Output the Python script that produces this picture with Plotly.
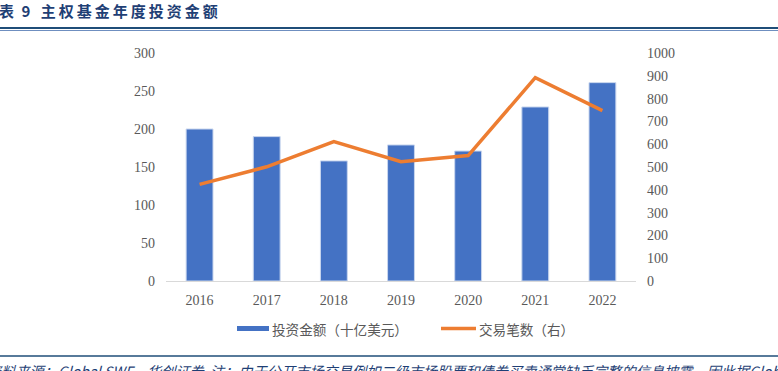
import plotly.graph_objects as go

years = ["2016", "2017", "2018", "2019", "2020", "2021", "2022"]
invest_amount = [200, 190, 158, 179, 171, 229, 261]   # 十亿美元
deal_count = [424, 501, 611, 523, 550, 892, 747]      # 笔

W, H = 778, 371
ML, MR, MT, MB = 166, 142, 53, 90
PW, PH = W - ML - MR, H - MT - MB

def px(x):
    return (x - ML) / PW

def py(y):
    return (H - MB - y) / PH

serif = "Liberation Serif, Times New Roman, serif"
cjk = "Noto Sans CJK SC, sans-serif"
gray = "#595959"
navy = "#1f3f75"
blue = "#4472C4"
orange = "#ED7D31"

fig = go.Figure()
fig.add_trace(go.Bar(
    x=years, y=invest_amount, name="投资金额（十亿美元）",
    marker=dict(color=blue, line=dict(color="#c9d6ee", width=1)),
    width=0.4, yaxis="y", showlegend=False,
))
fig.add_trace(go.Scatter(
    x=years, y=deal_count, name="交易笔数（右）", mode="lines",
    line=dict(color=orange, width=3.5), yaxis="y2", showlegend=False,
))

fig.update_layout(
    width=W, height=H,
    margin=dict(l=ML, r=MR, t=MT, b=MB),
    paper_bgcolor="white", plot_bgcolor="white",
    showlegend=False,
    xaxis=dict(showgrid=False, showline=True, linecolor="#d9d9d9", linewidth=1,
               ticks="", tickfont=dict(family=serif, size=14, color=gray),
               ticklabelstandoff=6),
    yaxis=dict(range=[0, 300], dtick=50, showgrid=False, showline=False, zeroline=False,
               ticks="", tickfont=dict(family=serif, size=14, color=gray),
               ticklabelstandoff=10),
    yaxis2=dict(range=[0, 1000], dtick=100, overlaying="y", side="right",
                showgrid=False, showline=False, zeroline=False, ticks="",
                tickfont=dict(family=serif, size=14, color=gray),
                ticklabelstandoff=10),
)

# legend (drawn manually to match the wide swatches)
fig.add_shape(type="rect", xref="paper", yref="paper", x0=px(237), x1=px(269), y0=py(326), y1=py(331),
              fillcolor=blue, line=dict(width=0))
fig.add_annotation(xref="paper", yref="paper", x=px(270), y=py(329), xanchor="left", yanchor="middle",
                   text="投资金额（十亿美元）", showarrow=False,
                   font=dict(family=cjk, size=13.6, color=gray))
fig.add_shape(type="line", xref="paper", yref="paper", x0=px(441), x1=px(476), y0=py(328.5), y1=py(328.5),
              line=dict(color=orange, width=3.5))
fig.add_annotation(xref="paper", yref="paper", x=px(477), y=py(329), xanchor="left", yanchor="middle",
                   text="交易笔数（右）", showarrow=False,
                   font=dict(family=cjk, size=13.6, color=gray))

# header & footer decorations
fig.add_shape(type="line", xref="paper", yref="paper", x0=px(0), x1=px(W), y0=py(28), y1=py(28),
              line=dict(color="#1f4e79", width=2))
fig.add_shape(type="line", xref="paper", yref="paper", x0=px(0), x1=px(W), y0=py(30.5), y1=py(30.5),
              line=dict(color="#6f8fc0", width=1))
fig.add_shape(type="line", xref="paper", yref="paper", x0=px(0), x1=px(W), y0=py(356), y1=py(356),
              line=dict(color="#1f4e79", width=1.5))

title = "表\u20029\u2002\u2009" + "\u2009".join("主权基金年度投资金额")
fig.add_annotation(xref="paper", yref="paper", x=px(-3), y=py(10.5), xanchor="left", yanchor="middle",
                   text="<b>" + title + "</b>", showarrow=False,
                   font=dict(family=cjk, size=15, color=navy))
fig.add_annotation(xref="paper", yref="paper", x=px(-15), y=py(371), xanchor="left", yanchor="middle",
                   text="<i>资料来源：Global SWF，华创证券  注：由于公开市场交易例如二级市场股票和债券买卖通常缺乏完整的信息披露，因此据Global SWF</i>",
                   showarrow=False, font=dict(family=cjk, size=14.2, color=navy))

fig.write_html("out.html", config={"displayModeBar": False},
               post_script="document.body.style.margin='0px';document.body.style.overflow='hidden';")
